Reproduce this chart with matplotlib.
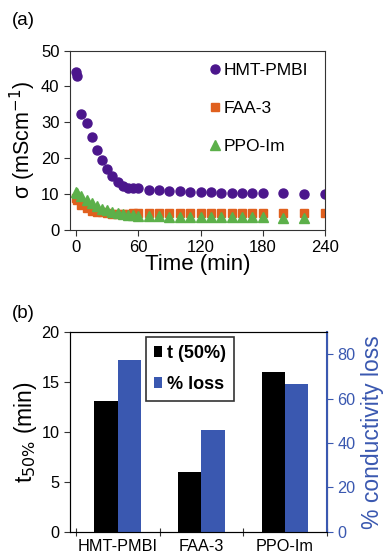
import numpy as np
import matplotlib
matplotlib.use("Agg")
import matplotlib.pyplot as plt

plt.rcParams["font.family"] = ["Liberation Sans", "DejaVu Sans"]

# (a) conductivity vs time
time_hmt = [0, 1, 5, 10, 15, 20, 25, 30, 35, 40, 45, 50, 55, 60, 70, 80, 90, 100,
            110, 120, 130, 140, 150, 160, 170, 180, 200, 220, 240]
sigma_hmt = [44.1, 43.0, 32.3, 29.9, 25.8, 22.3, 19.4, 16.9, 14.9, 13.2, 12.1, 11.6,
             11.5, 11.5, 11.2, 11.0, 10.9, 10.7, 10.6, 10.5, 10.4, 10.3, 10.3, 10.2,
             10.2, 10.1, 10.1, 10.0, 9.9]

time_faa = [0, 1, 5, 10, 15, 20, 25, 30, 35, 40, 45, 50, 55, 60, 70, 80, 90, 100,
            110, 120, 130, 140, 150, 160, 170, 180, 200, 220, 240]
sigma_faa = [8.7, 8.3, 7.0, 6.0, 5.3, 5.0, 4.8, 4.6, 4.5, 4.5, 4.5, 4.5, 4.6, 4.6,
             4.6, 4.6, 4.6, 4.6, 4.6, 4.6, 4.6, 4.6, 4.6, 4.6, 4.6, 4.6, 4.6, 4.6, 4.7]

time_ppo = [0, 1, 5, 10, 15, 20, 25, 30, 35, 40, 45, 50, 55, 60, 70, 80, 90, 100,
            110, 120, 130, 140, 150, 160, 170, 180, 200, 220]
sigma_ppo = [10.4, 10.1, 9.3, 8.4, 7.3, 6.5, 5.9, 5.4, 5.0, 4.6, 4.3, 4.1, 4.0, 3.9,
             3.8, 3.7, 3.6, 3.6, 3.5, 3.5, 3.5, 3.4, 3.4, 3.4, 3.4, 3.4, 3.3, 3.3]

# (b) t50% and % loss
membranes = ["HMT-PMBI", "FAA-3", "PPO-Im"]
t50 = [13.1, 6.0, 16.0]
pct_loss = [77.3, 46.0, 66.7]

purple = "#4B168C"
orange = "#E0601E"
green = "#5CB04A"
blue = "#3A58B0"

fig = plt.figure(figsize=(3.89, 5.56), dpi=100)

# ---------- (a) ----------
ax1 = fig.add_axes([0.18, 0.587, 0.655, 0.322])
ax1.plot(time_hmt, sigma_hmt, "o", color=purple, ms=6.5, mec=purple, label="HMT-PMBI")
ax1.plot(time_faa, sigma_faa, "s", color=orange, ms=5.8, mec=orange, label="FAA-3")
ax1.plot(time_ppo, sigma_ppo, "^", color=green, ms=7, mec=green, label="PPO-Im")
ax1.set_xlim(-6, 240)
ax1.set_ylim(0, 50)
ax1.set_xticks([0, 60, 120, 180, 240])
ax1.set_yticks([0, 10, 20, 30, 40, 50])
ax1.tick_params(direction="out", length=4, labelsize=12, color="#333333")
for s in ax1.spines.values():
    s.set_color("#333333")
ax1.set_xlabel("Time (min)", fontsize=16, labelpad=-1)
ax1.set_ylabel("σ (mScm$^{-1}$)", fontsize=15.5, labelpad=2)
ax1.legend(loc="upper left", frameon=False, fontsize=12.5, handletextpad=0.1,
           handlelength=0.8, labelspacing=1.3, borderaxespad=0, borderpad=0,
           bbox_to_anchor=(0.54, 0.93))
fig.text(0.03, 0.963, "(a)", fontsize=13.5, va="center")

# ---------- (b) ----------
ax2 = fig.add_axes([0.18, 0.0437, 0.66, 0.359])
x = np.arange(len(membranes))
w = 0.28
ax2.bar(x - w / 2, t50, width=w, color="black", label="t (50%)")
ax2.set_xlim(-0.57, 2.5)
ax2.set_ylim(0, 20)
ax2.set_yticks([0, 5, 10, 15, 20])
ax2.set_xticks([-0.5, 0.5, 1.5, 2.5])
ax2.set_xticklabels([])
ax2.set_xticks(x, minor=True)
ax2.set_xticklabels(membranes, minor=True, fontsize=11.7)
ax2.tick_params(axis="x", which="minor", length=0, pad=5)
ax2.tick_params(axis="x", which="major", direction="inout", length=6, color="#333333")
ax2.tick_params(axis="y", direction="out", length=4, labelsize=11.7, color="#333333")
for s in ax2.spines.values():
    s.set_color("#333333")
ax2.set_ylabel("t$_{50\\%}$ (min)", fontsize=16.5, labelpad=2)

ax3 = ax2.twinx()
ax3.bar(x + w / 2, pct_loss, width=w, color=blue, label="% loss")
ax3.set_ylim(0, 90)
ax3.set_yticks([0, 20, 40, 60, 80])
ax3.tick_params(axis="y", direction="out", length=4, labelsize=11.7,
                colors=blue)
ax3.spines["right"].set_color(blue)
ax3.spines["right"].set_linewidth(1.5)
ax3.set_ylabel("% conductivity loss", fontsize=16.5, color=blue, labelpad=4)

h1, l1 = ax2.get_legend_handles_labels()
h2, l2 = ax3.get_legend_handles_labels()
leg = ax3.legend(h1 + h2, l1 + l2, loc="upper left", bbox_to_anchor=(0.295, 0.975),
                 prop={"weight": "bold", "size": 13}, fancybox=False,
                 edgecolor="black", handlelength=0.45, handleheight=0.55,
                 handletextpad=0.25, labelspacing=0.75, borderpad=0.45,
                 borderaxespad=0)
leg.get_frame().set_linewidth(1.2)
fig.text(0.03, 0.437, "(b)", fontsize=13.5, va="center")

fig.savefig("out.png", dpi=100)
